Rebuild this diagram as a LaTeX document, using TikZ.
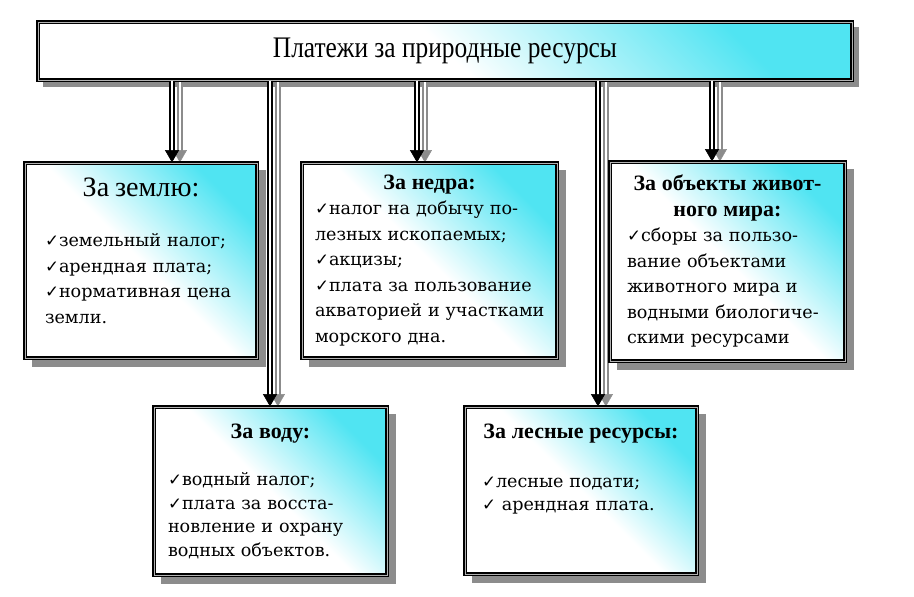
\documentclass[tikz,border=0pt]{standalone}
\usepackage{fontspec}
\setmainfont{Liberation Serif}
\newfontfamily\symf{DejaVu Sans}
\newfontfamily\bodyf{DejaVu Serif}
\newfontfamily\titlef[FakeStretch=0.85]{Liberation Serif}
\usetikzlibrary{arrows.meta,calc,backgrounds}
\definecolor{cy}{RGB}{80,228,242}
\definecolor{shd}{RGB}{140,140,140}
\newcommand\ck{{\symf\fontsize{9.5}{9.5}\selectfont ✓}}
\newcommand\jl[1]{\makebox[\hsize][s]{#1}}
\newcommand\cl[1]{\makebox[\hsize][c]{#1}}
\newcommand\hd[1]{\cl{\rmfamily\bfseries\fontsize{12.5}{14.5}\selectfont #1}}
\tikzset{
  box/.style={draw=black, line width=0.7pt, double=gray!60, double distance=0.4pt,
    top color=cy, bottom color=white, middle color=white, shading angle=-45,
    inner ysep=2pt, align=left, font=\bodyf\fontsize{10}{14.5}\selectfont},
  shaft/.style={draw=black, line width=0.9pt, double=white, double distance=1.4pt, shorten >=6pt},
  tipline/.style={draw=white, line width=0.3pt, -{Triangle[length=7pt,width=8pt,color=black]}},
  shshaft/.style={shaft, draw=shd},
  shtip/.style={draw=white, line width=0.3pt, -{Triangle[length=7pt,width=8pt,color=shd]}},
}
\begin{document}
\begin{tikzpicture}[x=0.02cm,y=-0.02cm]
\useasboundingbox (0,0) rectangle (914,597);
\node[box, minimum width=16.28cm, minimum height=1.16cm, align=center,
  font=\titlef\fontsize{17}{20}\selectfont] (top) at (445,51) {Платежи за природные ресурсы};

\node[box, text width=3.84cm, inner xsep=0.4cm, minimum height=3.9cm] (land) at (141,260.5)
 {\cl{\rmfamily\fontsize{16}{18}\selectfont За землю:}\\[14pt]
  \ck земельный налог;\\
  \ck арендная плата;\\
  \ck нормативная цена\\
  земли.\rule[-11pt]{0pt}{0pt}};

\node[box, text width=4.58cm, inner xsep=0.26cm, minimum height=3.9cm] (nedra) at (429.5,260.5)
 {\hd{За недра:}\\
  \jl{\ck налог на добычу по-}\\
  лезных ископаемых;\\
  \ck акцизы;\\
  \jl{\ck плата за пользование}\\
  \jl{акваторией и участками}\\
  морского дна.};

\node[box, text width=4.02cm, inner xsep=0.34cm, minimum height=3.98cm] (fauna) at (727.5,261.5)
 {\hd{За объекты живот-}\\
  \hd{ного мира:}\\
  \jl{\ck сборы за пользо-}\\
  \jl{вание объектами}\\
  \jl{животного мира и}\\
  \jl{водными биологиче-}\\
  скими ресурсами};

\node[box, text width=4.1cm, inner xsep=0.28cm, minimum height=3.36cm,
  font=\bodyf\fontsize{10}{13.3}\selectfont] (water) at (270.5,491)
 {\hd{За воду:}\\[14pt]
  \ck водный налог;\\
  \jl{\ck плата за восста-}\\
  \jl{новление и охрану}\\
  водных объектов.};

\node[box, text width=3.96cm, inner xsep=0.34cm, minimum height=3.34cm,
  font=\bodyf\fontsize{10}{13.5}\selectfont] (forest) at (581,490.5)
 {\hd{За лесные ресурсы:}\\[14pt]
  \ck лесные подати;\\
  \ck\ арендная плата.\rule[-26pt]{0pt}{0pt}};

\coordinate (s1) at (172,0 |- top.south);
\coordinate (s2) at (270,0 |- top.south);
\coordinate (s3) at (417,0 |- top.south);
\coordinate (s4) at (598,0 |- top.south);
\coordinate (s5) at (712,0 |- top.south);

\begin{scope}[on background layer]
  \fill[shd] ($(top.north west)+(6,6)$) rectangle ($(top.south east)+(6,6)$);
  \foreach \b in {land,nedra,fauna,water,forest}
    \fill[shd] ($(\b.north west)+(8,8)$) rectangle ($(\b.south east)+(8,8)$);
  \begin{scope}[transform canvas={xshift=4.5pt}]
    \foreach \s/\b in {s1/land,s2/water,s3/nedra,s4/forest,s5/fauna}{
      \draw[shshaft] (\s) -- (\s |- \b.north);
      \draw[shtip] (\s) -- (\s |- \b.north);
    }
  \end{scope}
\end{scope}

\foreach \s/\b in {s1/land,s2/water,s3/nedra,s4/forest,s5/fauna}{
  \draw[shaft] (\s) -- (\s |- \b.north);
  \draw[tipline] (\s) -- (\s |- \b.north);
}
\end{tikzpicture}
\end{document}
